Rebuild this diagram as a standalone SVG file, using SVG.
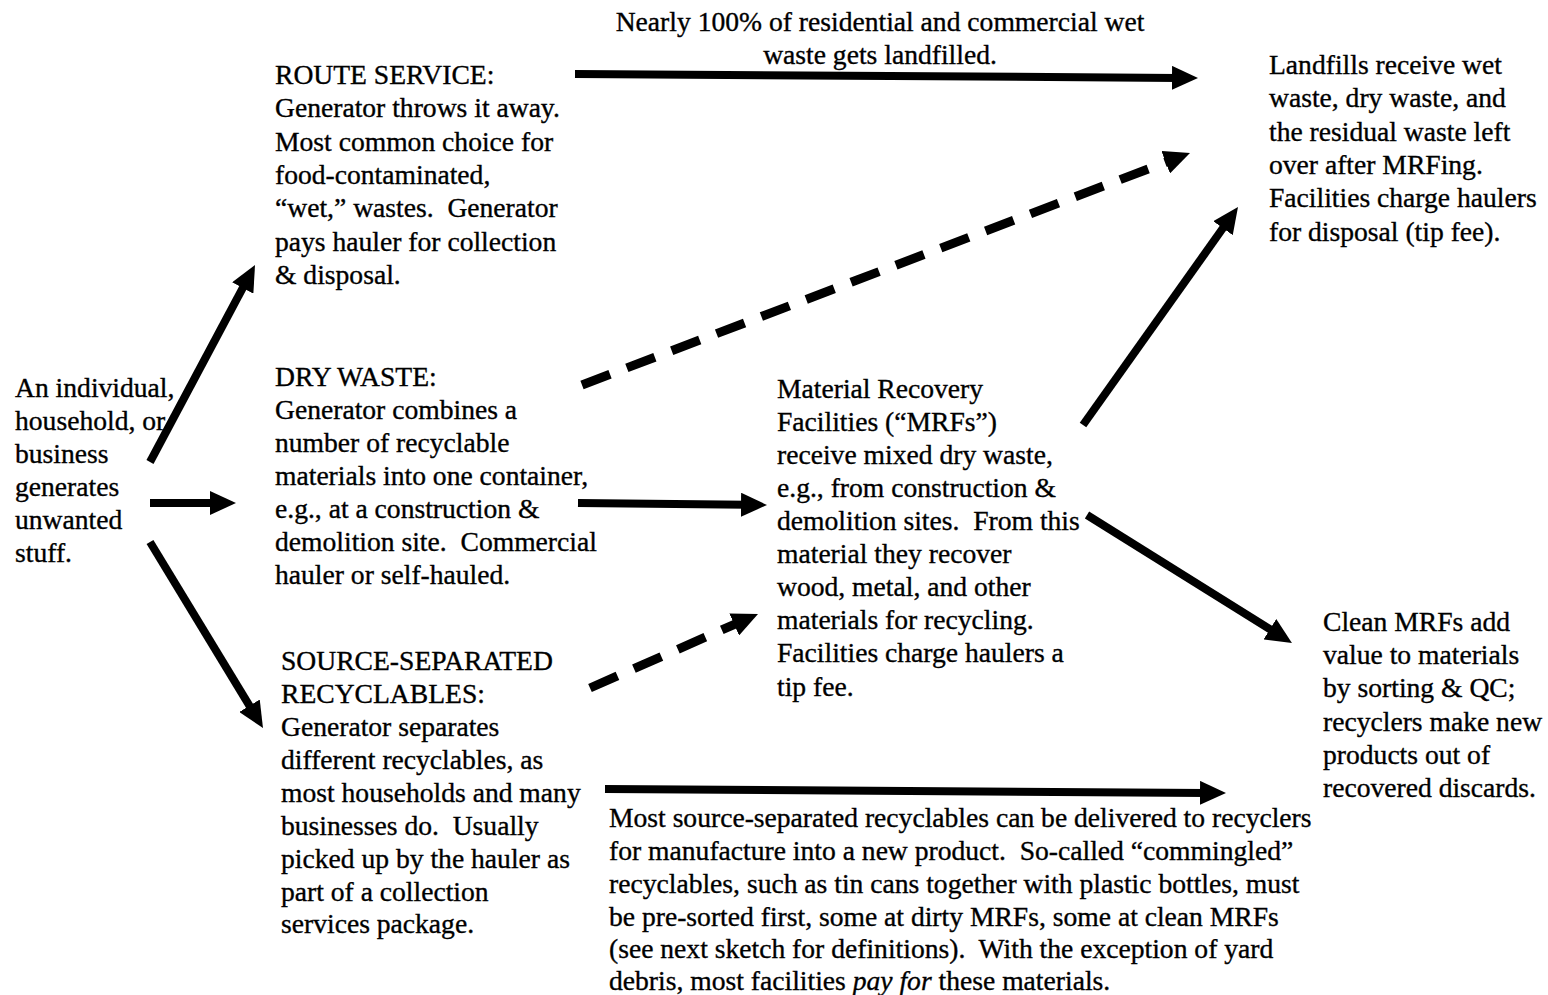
<svg xmlns="http://www.w3.org/2000/svg" width="1548" height="995" viewBox="0 0 1548 995">
<style>
text{font-family:"Liberation Serif","Times New Roman",serif;font-size:27.6px;fill:#000;stroke:#000;stroke-width:0.35;white-space:pre}
.c{text-anchor:middle}
.ln{stroke:#000;stroke-width:8;fill:none;marker-end:url(#ah)}
.ds{stroke:#000;stroke-width:9;fill:none;stroke-dasharray:30 18;marker-end:url(#ah)}
</style>
<defs>
<marker id="ah" markerUnits="userSpaceOnUse" viewBox="0 0 26 24" markerWidth="26" markerHeight="24" refX="6" refY="12" orient="auto">
<path d="M0,0 L26,12 L0,24 z" fill="#000"/>
</marker>
</defs>
<rect width="1548" height="995" fill="#fff"/>
<g id="connectors">
<line class="ln" x1="150" y1="462" x2="245.6" y2="282.7"/>
<line class="ln" x1="150" y1="503" x2="216" y2="503"/>
<line class="ln" x1="150" y1="542" x2="252.6" y2="710.9"/>
<line class="ln" x1="575" y1="74" x2="1178" y2="77.9"/>
<line class="ds" x1="582" y1="385" x2="1171.3" y2="160.1"/>
<line class="ln" x1="578" y1="503" x2="747" y2="504.8"/>
<line class="ds" x1="590" y1="688" x2="739.7" y2="622.1"/>
<line class="ln" x1="1083" y1="425" x2="1226.4" y2="223.3"/>
<line class="ln" x1="1087" y1="515" x2="1275" y2="632.4"/>
<line class="ln" x1="605" y1="789" x2="1206" y2="792.9"/>
</g>
<g id="generator">
<text x="15" y="397">An individual,</text>
<text x="15" y="430">household, or</text>
<text x="15" y="463">business</text>
<text x="15" y="496">generates</text>
<text x="15" y="529">unwanted</text>
<text x="15" y="562">stuff.</text>
</g>
<g id="route-service">
<text x="275" y="84">ROUTE SERVICE:</text>
<text x="275" y="117">Generator throws it away.</text>
<text x="275" y="151">Most common choice for</text>
<text x="275" y="184">food-contaminated,</text>
<text x="275" y="217">“wet,” wastes.  Generator</text>
<text x="275" y="251">pays hauler for collection</text>
<text x="275" y="284">&amp; disposal.</text>
</g>
<g id="dry-waste">
<text x="275" y="386">DRY WASTE:</text>
<text x="275" y="419">Generator combines a</text>
<text x="275" y="452">number of recyclable</text>
<text x="275" y="485">materials into one container,</text>
<text x="275" y="518">e.g., at a construction &amp;</text>
<text x="275" y="551">demolition site.  Commercial</text>
<text x="275" y="584">hauler or self-hauled.</text>
</g>
<g id="source-separated">
<text x="281" y="670">SOURCE-SEPARATED</text>
<text x="281" y="703">RECYCLABLES:</text>
<text x="281" y="736">Generator separates</text>
<text x="281" y="769">different recyclables, as</text>
<text x="281" y="802">most households and many</text>
<text x="281" y="835">businesses do.  Usually</text>
<text x="281" y="868">picked up by the hauler as</text>
<text x="281" y="901">part of a collection</text>
<text x="281" y="933">services package.</text>
</g>
<g id="wet-label">
<text class="c" x="880" y="31">Nearly 100% of residential and commercial wet</text>
<text class="c" x="880" y="64">waste gets landfilled.</text>
</g>
<g id="landfills">
<text x="1269" y="74">Landfills receive wet</text>
<text x="1269" y="107">waste, dry waste, and</text>
<text x="1269" y="141">the residual waste left</text>
<text x="1269" y="174">over after MRFing.</text>
<text x="1269" y="207">Facilities charge haulers</text>
<text x="1269" y="241">for disposal (tip fee).</text>
</g>
<g id="mrf">
<text x="777" y="398">Material Recovery</text>
<text x="777" y="431">Facilities (“MRFs”)</text>
<text x="777" y="464">receive mixed dry waste,</text>
<text x="777" y="497">e.g., from construction &amp;</text>
<text x="777" y="530">demolition sites.  From this</text>
<text x="777" y="563">material they recover</text>
<text x="777" y="596">wood, metal, and other</text>
<text x="777" y="629">materials for recycling.</text>
<text x="777" y="662">Facilities charge haulers a</text>
<text x="777" y="696">tip fee.</text>
</g>
<g id="clean-mrfs">
<text x="1323" y="631">Clean MRFs add</text>
<text x="1323" y="664">value to materials</text>
<text x="1323" y="697">by sorting &amp; QC;</text>
<text x="1323" y="731">recyclers make new</text>
<text x="1323" y="764">products out of</text>
<text x="1323" y="797">recovered discards.</text>
</g>
<g id="recyclers-label">
<text x="609" y="827">Most source-separated recyclables can be delivered to recyclers</text>
<text x="609" y="860">for manufacture into a new product.  So-called “commingled”</text>
<text x="609" y="893">recyclables, such as tin cans together with plastic bottles, must</text>
<text x="609" y="926">be pre-sorted first, some at dirty MRFs, some at clean MRFs</text>
<text x="609" y="958">(see next sketch for definitions).  With the exception of yard</text>
<text x="609" y="990">debris, most facilities <tspan font-style="italic">pay for</tspan> these materials.</text>
</g>
</svg>
